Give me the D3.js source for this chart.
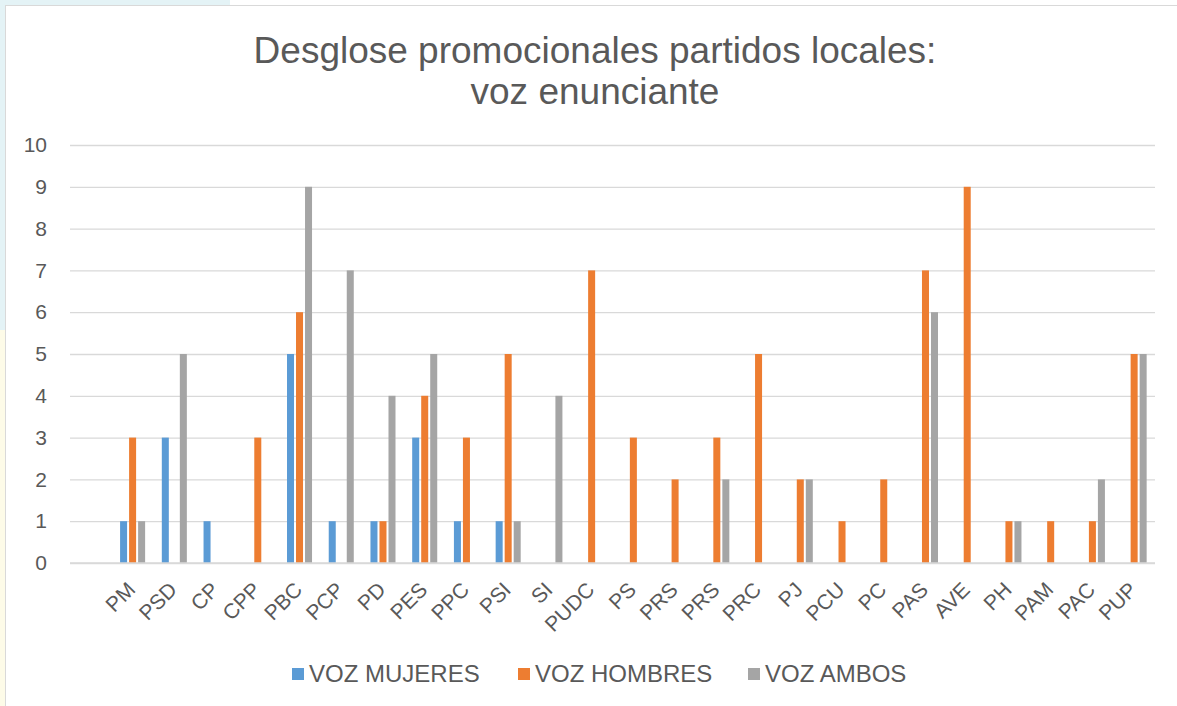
<!DOCTYPE html>
<html>
<head>
<meta charset="utf-8">
<script src="https://cdn.jsdelivr.net/npm/d3@7"></script>
<style>
  body { margin: 0; background: #fff; }
  svg text { font-family: "Liberation Sans", Arial, sans-serif; fill: #595959; }
</style>
</head>
<body>
<div id="chart"></div>
<script>
// first slot is left empty in the original sheet
const categories = ["", "PM", "PSD", "CP", "CPP", "PBC", "PCP", "PD", "PES", "PPC", "PSI", "SI", "PUDC",
  "PS", "PRS", "PRS", "PRC", "PJ", "PCU", "PC", "PAS", "AVE", "PH", "PAM", "PAC", "PUP"];
const vozMujeres = [0, 1, 3, 1, 0, 5, 1, 1, 3, 1, 1, 0, 0, 0, 0, 0, 0, 0, 0, 0, 0, 0, 0, 0, 0, 0];
const vozHombres = [0, 3, 0, 0, 3, 6, 0, 1, 4, 3, 5, 0, 7, 3, 2, 3, 5, 2, 1, 2, 7, 9, 1, 1, 1, 5];
const vozAmbos   = [0, 1, 5, 0, 0, 9, 7, 4, 5, 0, 1, 4, 0, 0, 0, 2, 0, 2, 0, 0, 6, 0, 1, 0, 2, 5];
const seriesNames = ["VOZ MUJERES", "VOZ HOMBRES", "VOZ AMBOS"];
const yTicks = [0, 1, 2, 3, 4, 5, 6, 7, 8, 9, 10];

const colors = ["#5b9bd5", "#ed7d31", "#a5a5a5"];
const width = 1177, height = 706;

const svg = d3.select('#chart').append('svg')
  .attr('width', width)
  .attr('height', height);

// slide background peeking round the chart box
svg.append('rect').attr('x', 0).attr('y', 0).attr('width', 6).attr('height', 330).attr('fill', '#e4f3f6');
svg.append('rect').attr('x', 0).attr('y', 330).attr('width', 6).attr('height', 376).attr('fill', '#fdfbe8');
svg.append('rect').attr('x', 0).attr('y', 0).attr('width', 230).attr('height', 5).attr('fill', '#e4f3f6');
svg.append('rect')
  .attr('x', 5.5).attr('y', 5.5)
  .attr('width', width).attr('height', height)
  .attr('fill', '#fff')
  .attr('stroke', '#d9d9d9');

const title = svg.append('text')
  .attr('text-anchor', 'middle')
  .style('font-size', '37px');
title.append('tspan').attr('x', 595).attr('y', 63).text('Desglose promocionales partidos locales:');
title.append('tspan').attr('x', 595).attr('y', 104).text('voz enunciante');

const plotLeft = 70, plotRight = 1155, plotTop = 145, plotBottom = 563;

const x0 = d3.scaleBand()
  .domain(d3.range(categories.length))
  .range([plotLeft, plotRight]);

const groupW = x0.bandwidth() * 0.6;
const x1 = d3.scaleBand()
  .domain(d3.range(seriesNames.length))
  .range([-groupW / 2, groupW / 2])
  .paddingInner(2 / 9);

const y = d3.scaleLinear()
  .domain([0, 10])
  .range([plotBottom, plotTop]);

const yAxis = svg.append('g')
  .attr('transform', `translate(${plotLeft},0)`)
  .call(d3.axisLeft(y).tickValues(yTicks).tickSize(-(plotRight - plotLeft)).tickPadding(23));
yAxis.select('.domain').remove();
yAxis.selectAll('line').attr('stroke', '#d9d9d9').attr('stroke-width', 1.3);
yAxis.selectAll('text').style('font-size', '21px').attr('fill', '#595959');

const allSeries = [vozMujeres, vozHombres, vozAmbos];
const bars = [];
allSeries.forEach((vals, s) => {
  vals.forEach((v, i) => { if (v > 0) bars.push({ s, i, v }); });
});

svg.append('g')
  .selectAll('rect')
  .data(bars)
  .join('rect')
    .attr('x', d => x0(d.i) + x0.bandwidth() / 2 + x1(d.s))
    .attr('width', x1.bandwidth())
    .attr('y', d => y(d.v))
    .attr('height', d => y(0) - y(d.v))
    .attr('fill', d => colors[d.s]);

// baseline drawn over the bars
svg.append('line')
  .attr('x1', plotLeft).attr('x2', plotRight)
  .attr('y1', y(0)).attr('y2', y(0))
  .attr('stroke', '#d9d9d9')
  .attr('stroke-width', 1.6);

svg.append('g')
  .selectAll('text')
  .data(categories)
  .join('text')
    .attr('text-anchor', 'end')
    .attr('transform', (d, i) => `translate(${x0(i) + x0.bandwidth() / 2 + 4},${plotBottom + 28}) rotate(-45)`)
    .style('font-size', '21px')
    .text(d => d);

// legend
const legendX = [292, 518, 748];
const legend = svg.append('g')
  .selectAll('g')
  .data(seriesNames)
  .join('g')
    .attr('transform', (d, i) => `translate(${legendX[i]},668)`);
legend.append('rect')
  .attr('width', 12).attr('height', 12)
  .attr('fill', (d, i) => colors[i]);
legend.append('text')
  .attr('x', 17).attr('y', 14)
  .style('font-size', '24px')
  .text(d => d);
</script>
</body>
</html>
